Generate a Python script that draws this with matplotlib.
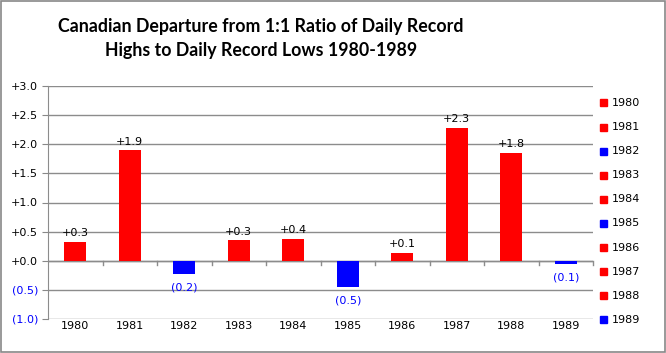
import matplotlib.pyplot as plt
from matplotlib.patches import Rectangle

years = ["1980", "1981", "1982", "1983", "1984", "1985", "1986", "1987", "1988", "1989"]
values = [0.33, 1.90, -0.22, 0.35, 0.38, -0.45, 0.14, 2.28, 1.85, -0.06]
labels = ["+0.3", "+1.9", "(0.2)", "+0.3", "+0.4", "(0.5)", "+0.1", "+2.3", "+1.8", "(0.1)"]
yticks = [-1.0, -0.5, 0.0, 0.5, 1.0, 1.5, 2.0, 2.5, 3.0]
ytick_labels = ["(1.0)", "(0.5)", "+0.0", "+0.5", "+1.0", "+1.5", "+2.0", "+2.5", "+3.0"]

RED = "#ff0000"
BLUE = "#0000ff"
colors = [RED if v >= 0 else BLUE for v in values]

fig = plt.figure(figsize=(6.66, 3.53), dpi=100)
fig.patches.append(Rectangle((0.0015, 0.002), 0.997, 0.995, transform=fig.transFigure,
                             fill=False, edgecolor="#888888", linewidth=1.2))
ax = fig.add_axes([48 / 666, 1 - 319 / 353, (593 - 48) / 666, (319 - 86) / 353])

x = list(range(len(years)))
bars = ax.bar(x, values, width=0.41, color=colors, zorder=3)

ax.set_xlim(-0.5, len(years) - 0.5)
ax.set_ylim(-1.0, 3.0)
ax.set_yticks(yticks)
ax.set_yticklabels(ytick_labels, fontsize=8, family="DejaVu Sans")
for t, v in zip(ax.get_yticklabels(), yticks):
    t.set_color(BLUE if v < 0 else "black")
ax.tick_params(axis="y", length=4, color="#888888", pad=3)
ax.grid(axis="y", color="#8c8c8c", linewidth=1, zorder=0)
ax.set_axisbelow(True)

# category boundaries as ticks on the zero line
ax.set_xticks([])
ax.axhline(0, color="#8c8c8c", linewidth=1, zorder=2)
for b in range(1, len(years) + 1):
    ax.plot([b - 0.5, b - 0.5], [0, -0.08], color="#8c8c8c", linewidth=1, zorder=2, clip_on=False)
for i, yr in enumerate(years):
    ax.text(i, -1.12, yr, ha="center", va="center", fontsize=8, family="DejaVu Sans")

for s in ["top", "right", "bottom"]:
    ax.spines[s].set_visible(False)
ax.spines["left"].set_color("#8c8c8c")

for i, (v, lab) in enumerate(zip(values, labels)):
    if v >= 0:
        ax.text(i, v + 0.06, lab, ha="center", va="bottom", fontsize=8, family="DejaVu Sans")
    else:
        ax.text(i, v - 0.15, lab, ha="center", va="top", fontsize=8, color=BLUE,
                family="DejaVu Sans")

fig.text(0.392, 0.891, "Canadian Departure from 1:1 Ratio of Daily Record\nHighs to Daily Record Lows 1980-1989",
         ha="center", va="center", multialignment="center", fontsize=12.8, fontweight="bold",
         family=["Lato", "DejaVu Sans"], linespacing=1.45)

# legend
for i, (yr, c) in enumerate(zip(years, colors)):
    yy = 1 - (103 + i * 24.1) / 353
    fig.patches.append(Rectangle((600 / 666, yy - 3.5 / 353), 7 / 666, 7 / 353,
                                 transform=fig.transFigure, color=c))
    fig.text(612 / 666, yy, yr, ha="left", va="center", fontsize=8, family="DejaVu Sans")

fig.savefig("out.png", dpi=100)
